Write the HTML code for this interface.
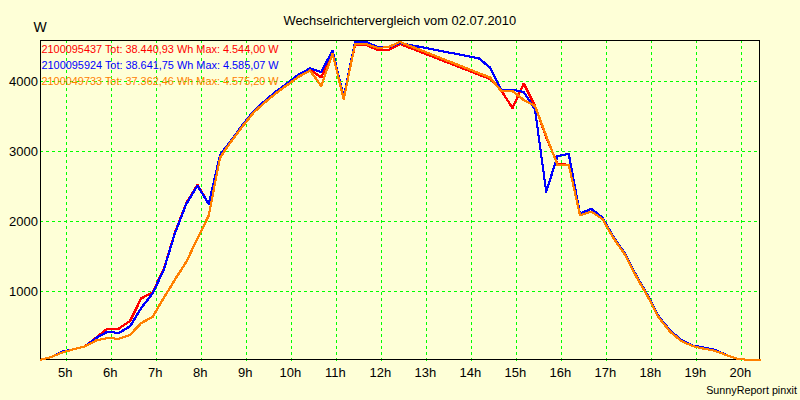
<!DOCTYPE html>
<html><head><meta charset="utf-8"><title>Wechselrichtervergleich</title>
<style>
html,body{margin:0;padding:0;background:#feffd7;}
body{width:800px;height:400px;overflow:hidden;}
svg{display:block;font-family:"Liberation Sans",sans-serif;}
</style></head><body>
<svg width="800" height="400" viewBox="0 0 800 400">
<rect x="0" y="0" width="800" height="400" fill="#feffd7"/>
<g stroke="#00ff00" stroke-width="1" stroke-dasharray="3 3" shape-rendering="crispEdges" fill="none"><line x1="66.5" y1="40" x2="66.5" y2="361"/><line x1="111.5" y1="40" x2="111.5" y2="361"/><line x1="156.5" y1="40" x2="156.5" y2="361"/><line x1="201.5" y1="40" x2="201.5" y2="361"/><line x1="246.5" y1="40" x2="246.5" y2="361"/><line x1="291.5" y1="40" x2="291.5" y2="361"/><line x1="336.5" y1="40" x2="336.5" y2="361"/><line x1="381.5" y1="40" x2="381.5" y2="361"/><line x1="426.5" y1="40" x2="426.5" y2="361"/><line x1="471.5" y1="40" x2="471.5" y2="361"/><line x1="516.5" y1="40" x2="516.5" y2="361"/><line x1="561.5" y1="40" x2="561.5" y2="361"/><line x1="606.5" y1="40" x2="606.5" y2="361"/><line x1="651.5" y1="40" x2="651.5" y2="361"/><line x1="696.5" y1="40" x2="696.5" y2="361"/><line x1="741.5" y1="40" x2="741.5" y2="361"/><line x1="40" y1="81.5" x2="760" y2="81.5"/><line x1="40" y1="151.5" x2="760" y2="151.5"/><line x1="40" y1="221.5" x2="760" y2="221.5"/><line x1="40" y1="291.5" x2="760" y2="291.5"/></g>
<rect x="40.5" y="40.5" width="719" height="319" fill="none" stroke="#000" stroke-width="1" shape-rendering="crispEdges"/>
<g font-size="10.9px">
<text x="41.5" y="53" fill="#ff0000">2100095437 Tot: 38.440,93 Wh Max: 4.544,00 W</text>
<text x="41.5" y="69" fill="#0000ff">2100095924 Tot: 38.641,75 Wh Max: 4.585,07 W</text>
<text x="41.5" y="85" fill="#ff8000">2100049733 Tot: 37.362,46 Wh Max: 4.575,20 W</text>
</g>
<clipPath id="c"><rect x="40" y="39" width="721" height="323"/></clipPath>
<g clip-path="url(#c)" fill="none" stroke-width="1" stroke-linejoin="round" stroke-linecap="square" shape-rendering="crispEdges">
<g stroke="#ff0000"><polyline transform="translate(-0.5,-0.5)" points="40.00,360.00 51.25,357.00 62.50,351.60 73.75,349.20 85.00,346.40 96.25,337.60 107.50,328.60 118.75,328.60 130.00,321.00 141.25,298.40 152.50,292.40 163.75,269.20 175.00,232.20 186.25,203.20 197.50,184.80 208.75,204.00 220.00,155.00 231.25,140.50 242.50,125.00 253.75,111.00 265.00,100.80 276.25,91.40 287.50,83.20 298.75,74.50 310.00,69.40 321.25,77.50 332.50,52.50 343.75,98.00 355.00,45.00 366.25,45.00 377.50,50.00 388.75,50.00 400.00,44.00 490.00,79.00 501.25,90.60 512.50,108.00 523.75,83.50 535.00,106.00 546.25,137.50 557.50,164.00 568.75,164.75 580.00,214.50 591.25,211.50 602.50,219.00 613.75,238.50 625.00,254.75 636.25,276.50 647.50,296.00 658.75,317.50 670.00,331.50 681.25,341.00 692.50,346.00 703.75,348.70 715.00,350.80 726.25,355.00 737.50,358.75 748.75,360.00 760.00,360.00"/><polyline transform="translate(-0.5,0.5)" points="40.00,360.00 51.25,357.00 62.50,351.60 73.75,349.20 85.00,346.40 96.25,337.60 107.50,328.60 118.75,328.60 130.00,321.00 141.25,298.40 152.50,292.40 163.75,269.20 175.00,232.20 186.25,203.20 197.50,184.80 208.75,204.00 220.00,155.00 231.25,140.50 242.50,125.00 253.75,111.00 265.00,100.80 276.25,91.40 287.50,83.20 298.75,74.50 310.00,69.40 321.25,77.50 332.50,52.50 343.75,98.00 355.00,45.00 366.25,45.00 377.50,50.00 388.75,50.00 400.00,44.00 490.00,79.00 501.25,90.60 512.50,108.00 523.75,83.50 535.00,106.00 546.25,137.50 557.50,164.00 568.75,164.75 580.00,214.50 591.25,211.50 602.50,219.00 613.75,238.50 625.00,254.75 636.25,276.50 647.50,296.00 658.75,317.50 670.00,331.50 681.25,341.00 692.50,346.00 703.75,348.70 715.00,350.80 726.25,355.00 737.50,358.75 748.75,360.00 760.00,360.00"/><polyline transform="translate(0.5,-0.5)" points="40.00,360.00 51.25,357.00 62.50,351.60 73.75,349.20 85.00,346.40 96.25,337.60 107.50,328.60 118.75,328.60 130.00,321.00 141.25,298.40 152.50,292.40 163.75,269.20 175.00,232.20 186.25,203.20 197.50,184.80 208.75,204.00 220.00,155.00 231.25,140.50 242.50,125.00 253.75,111.00 265.00,100.80 276.25,91.40 287.50,83.20 298.75,74.50 310.00,69.40 321.25,77.50 332.50,52.50 343.75,98.00 355.00,45.00 366.25,45.00 377.50,50.00 388.75,50.00 400.00,44.00 490.00,79.00 501.25,90.60 512.50,108.00 523.75,83.50 535.00,106.00 546.25,137.50 557.50,164.00 568.75,164.75 580.00,214.50 591.25,211.50 602.50,219.00 613.75,238.50 625.00,254.75 636.25,276.50 647.50,296.00 658.75,317.50 670.00,331.50 681.25,341.00 692.50,346.00 703.75,348.70 715.00,350.80 726.25,355.00 737.50,358.75 748.75,360.00 760.00,360.00"/><polyline transform="translate(0.5,0.5)" points="40.00,360.00 51.25,357.00 62.50,351.60 73.75,349.20 85.00,346.40 96.25,337.60 107.50,328.60 118.75,328.60 130.00,321.00 141.25,298.40 152.50,292.40 163.75,269.20 175.00,232.20 186.25,203.20 197.50,184.80 208.75,204.00 220.00,155.00 231.25,140.50 242.50,125.00 253.75,111.00 265.00,100.80 276.25,91.40 287.50,83.20 298.75,74.50 310.00,69.40 321.25,77.50 332.50,52.50 343.75,98.00 355.00,45.00 366.25,45.00 377.50,50.00 388.75,50.00 400.00,44.00 490.00,79.00 501.25,90.60 512.50,108.00 523.75,83.50 535.00,106.00 546.25,137.50 557.50,164.00 568.75,164.75 580.00,214.50 591.25,211.50 602.50,219.00 613.75,238.50 625.00,254.75 636.25,276.50 647.50,296.00 658.75,317.50 670.00,331.50 681.25,341.00 692.50,346.00 703.75,348.70 715.00,350.80 726.25,355.00 737.50,358.75 748.75,360.00 760.00,360.00"/></g>
<g stroke="#0000ff"><polyline transform="translate(-0.5,-0.5)" points="40.00,360.00 51.25,357.00 62.50,351.60 73.75,349.20 85.00,346.40 96.25,338.00 107.50,331.60 118.75,333.00 130.00,326.40 141.25,308.00 152.50,293.50 163.75,270.00 175.00,233.00 186.25,204.00 197.50,185.60 208.75,204.00 220.00,155.00 231.25,140.50 242.50,125.00 253.75,111.00 265.00,100.80 276.25,91.40 287.50,83.20 298.75,74.50 310.00,68.50 321.25,72.00 332.50,50.60 343.75,97.00 355.00,42.00 366.25,42.00 377.50,47.00 388.75,47.00 400.00,43.00 478.75,58.30 490.00,67.50 501.25,90.40 512.50,89.75 523.75,92.00 535.00,109.50 546.25,191.75 557.50,156.00 568.75,154.00 580.00,213.75 591.25,208.80 602.50,217.80 613.75,237.50 625.00,253.75 636.25,275.50 647.50,295.00 658.75,316.50 670.00,330.50 681.25,340.00 692.50,345.50 703.75,347.50 715.00,349.80 726.25,355.00 737.50,358.75 748.75,360.00 760.00,360.00"/><polyline transform="translate(-0.5,0.5)" points="40.00,360.00 51.25,357.00 62.50,351.60 73.75,349.20 85.00,346.40 96.25,338.00 107.50,331.60 118.75,333.00 130.00,326.40 141.25,308.00 152.50,293.50 163.75,270.00 175.00,233.00 186.25,204.00 197.50,185.60 208.75,204.00 220.00,155.00 231.25,140.50 242.50,125.00 253.75,111.00 265.00,100.80 276.25,91.40 287.50,83.20 298.75,74.50 310.00,68.50 321.25,72.00 332.50,50.60 343.75,97.00 355.00,42.00 366.25,42.00 377.50,47.00 388.75,47.00 400.00,43.00 478.75,58.30 490.00,67.50 501.25,90.40 512.50,89.75 523.75,92.00 535.00,109.50 546.25,191.75 557.50,156.00 568.75,154.00 580.00,213.75 591.25,208.80 602.50,217.80 613.75,237.50 625.00,253.75 636.25,275.50 647.50,295.00 658.75,316.50 670.00,330.50 681.25,340.00 692.50,345.50 703.75,347.50 715.00,349.80 726.25,355.00 737.50,358.75 748.75,360.00 760.00,360.00"/><polyline transform="translate(0.5,-0.5)" points="40.00,360.00 51.25,357.00 62.50,351.60 73.75,349.20 85.00,346.40 96.25,338.00 107.50,331.60 118.75,333.00 130.00,326.40 141.25,308.00 152.50,293.50 163.75,270.00 175.00,233.00 186.25,204.00 197.50,185.60 208.75,204.00 220.00,155.00 231.25,140.50 242.50,125.00 253.75,111.00 265.00,100.80 276.25,91.40 287.50,83.20 298.75,74.50 310.00,68.50 321.25,72.00 332.50,50.60 343.75,97.00 355.00,42.00 366.25,42.00 377.50,47.00 388.75,47.00 400.00,43.00 478.75,58.30 490.00,67.50 501.25,90.40 512.50,89.75 523.75,92.00 535.00,109.50 546.25,191.75 557.50,156.00 568.75,154.00 580.00,213.75 591.25,208.80 602.50,217.80 613.75,237.50 625.00,253.75 636.25,275.50 647.50,295.00 658.75,316.50 670.00,330.50 681.25,340.00 692.50,345.50 703.75,347.50 715.00,349.80 726.25,355.00 737.50,358.75 748.75,360.00 760.00,360.00"/><polyline transform="translate(0.5,0.5)" points="40.00,360.00 51.25,357.00 62.50,351.60 73.75,349.20 85.00,346.40 96.25,338.00 107.50,331.60 118.75,333.00 130.00,326.40 141.25,308.00 152.50,293.50 163.75,270.00 175.00,233.00 186.25,204.00 197.50,185.60 208.75,204.00 220.00,155.00 231.25,140.50 242.50,125.00 253.75,111.00 265.00,100.80 276.25,91.40 287.50,83.20 298.75,74.50 310.00,68.50 321.25,72.00 332.50,50.60 343.75,97.00 355.00,42.00 366.25,42.00 377.50,47.00 388.75,47.00 400.00,43.00 478.75,58.30 490.00,67.50 501.25,90.40 512.50,89.75 523.75,92.00 535.00,109.50 546.25,191.75 557.50,156.00 568.75,154.00 580.00,213.75 591.25,208.80 602.50,217.80 613.75,237.50 625.00,253.75 636.25,275.50 647.50,295.00 658.75,316.50 670.00,330.50 681.25,340.00 692.50,345.50 703.75,347.50 715.00,349.80 726.25,355.00 737.50,358.75 748.75,360.00 760.00,360.00"/></g>
<g stroke="#ff8000"><polyline transform="translate(-0.5,-0.5)" points="40.00,360.00 51.25,357.00 62.50,352.40 73.75,349.20 85.00,346.40 96.25,340.40 107.50,338.00 118.75,338.80 130.00,335.00 141.25,323.00 152.50,317.00 163.75,298.00 175.00,279.50 186.25,262.00 197.50,238.50 208.75,215.50 220.00,157.60 231.25,141.30 242.50,126.40 253.75,112.30 265.00,102.30 276.25,93.00 287.50,84.80 298.75,76.70 310.00,70.50 321.25,86.00 332.50,53.75 343.75,99.00 355.00,44.00 366.25,44.00 377.50,48.00 388.75,47.00 400.00,42.00 490.00,77.50 501.25,91.00 512.50,91.00 523.75,100.00 535.00,106.00 546.25,136.00 557.50,165.00 568.75,164.75 580.00,215.25 591.25,211.50 602.50,219.00 613.75,238.50 625.00,254.75 636.25,276.50 647.50,296.00 658.75,317.50 670.00,331.50 681.25,341.00 692.50,346.00 703.75,348.70 715.00,350.80 726.25,355.00 737.50,358.75 748.75,360.00 760.00,360.00"/><polyline transform="translate(-0.5,0.5)" points="40.00,360.00 51.25,357.00 62.50,352.40 73.75,349.20 85.00,346.40 96.25,340.40 107.50,338.00 118.75,338.80 130.00,335.00 141.25,323.00 152.50,317.00 163.75,298.00 175.00,279.50 186.25,262.00 197.50,238.50 208.75,215.50 220.00,157.60 231.25,141.30 242.50,126.40 253.75,112.30 265.00,102.30 276.25,93.00 287.50,84.80 298.75,76.70 310.00,70.50 321.25,86.00 332.50,53.75 343.75,99.00 355.00,44.00 366.25,44.00 377.50,48.00 388.75,47.00 400.00,42.00 490.00,77.50 501.25,91.00 512.50,91.00 523.75,100.00 535.00,106.00 546.25,136.00 557.50,165.00 568.75,164.75 580.00,215.25 591.25,211.50 602.50,219.00 613.75,238.50 625.00,254.75 636.25,276.50 647.50,296.00 658.75,317.50 670.00,331.50 681.25,341.00 692.50,346.00 703.75,348.70 715.00,350.80 726.25,355.00 737.50,358.75 748.75,360.00 760.00,360.00"/><polyline transform="translate(0.5,-0.5)" points="40.00,360.00 51.25,357.00 62.50,352.40 73.75,349.20 85.00,346.40 96.25,340.40 107.50,338.00 118.75,338.80 130.00,335.00 141.25,323.00 152.50,317.00 163.75,298.00 175.00,279.50 186.25,262.00 197.50,238.50 208.75,215.50 220.00,157.60 231.25,141.30 242.50,126.40 253.75,112.30 265.00,102.30 276.25,93.00 287.50,84.80 298.75,76.70 310.00,70.50 321.25,86.00 332.50,53.75 343.75,99.00 355.00,44.00 366.25,44.00 377.50,48.00 388.75,47.00 400.00,42.00 490.00,77.50 501.25,91.00 512.50,91.00 523.75,100.00 535.00,106.00 546.25,136.00 557.50,165.00 568.75,164.75 580.00,215.25 591.25,211.50 602.50,219.00 613.75,238.50 625.00,254.75 636.25,276.50 647.50,296.00 658.75,317.50 670.00,331.50 681.25,341.00 692.50,346.00 703.75,348.70 715.00,350.80 726.25,355.00 737.50,358.75 748.75,360.00 760.00,360.00"/><polyline transform="translate(0.5,0.5)" points="40.00,360.00 51.25,357.00 62.50,352.40 73.75,349.20 85.00,346.40 96.25,340.40 107.50,338.00 118.75,338.80 130.00,335.00 141.25,323.00 152.50,317.00 163.75,298.00 175.00,279.50 186.25,262.00 197.50,238.50 208.75,215.50 220.00,157.60 231.25,141.30 242.50,126.40 253.75,112.30 265.00,102.30 276.25,93.00 287.50,84.80 298.75,76.70 310.00,70.50 321.25,86.00 332.50,53.75 343.75,99.00 355.00,44.00 366.25,44.00 377.50,48.00 388.75,47.00 400.00,42.00 490.00,77.50 501.25,91.00 512.50,91.00 523.75,100.00 535.00,106.00 546.25,136.00 557.50,165.00 568.75,164.75 580.00,215.25 591.25,211.50 602.50,219.00 613.75,238.50 625.00,254.75 636.25,276.50 647.50,296.00 658.75,317.50 670.00,331.50 681.25,341.00 692.50,346.00 703.75,348.70 715.00,350.80 726.25,355.00 737.50,358.75 748.75,360.00 760.00,360.00"/></g>
</g>
<g fill="#000" font-size="13px">
<text x="399.8" y="25" text-anchor="middle" font-size="12.9px">Wechselrichtervergleich vom 02.07.2010</text>
<text x="33.5" y="32" font-size="14px">W</text>
<text x="65.3" y="377" text-anchor="middle">5h</text><text x="110.3" y="377" text-anchor="middle">6h</text><text x="155.3" y="377" text-anchor="middle">7h</text><text x="200.3" y="377" text-anchor="middle">8h</text><text x="245.3" y="377" text-anchor="middle">9h</text><text x="290.3" y="377" text-anchor="middle">10h</text><text x="335.3" y="377" text-anchor="middle">11h</text><text x="380.3" y="377" text-anchor="middle">12h</text><text x="425.3" y="377" text-anchor="middle">13h</text><text x="470.3" y="377" text-anchor="middle">14h</text><text x="515.3" y="377" text-anchor="middle">15h</text><text x="560.3" y="377" text-anchor="middle">16h</text><text x="605.3" y="377" text-anchor="middle">17h</text><text x="650.3" y="377" text-anchor="middle">18h</text><text x="695.3" y="377" text-anchor="middle">19h</text><text x="740.3" y="377" text-anchor="middle">20h</text>
<text x="38" y="86" text-anchor="end">4000</text><text x="38" y="156" text-anchor="end">3000</text><text x="38" y="226" text-anchor="end">2000</text><text x="38" y="296" text-anchor="end">1000</text>
<text x="797" y="394" text-anchor="end" font-size="10.75px">SunnyReport pinxit</text>
</g>
</svg>
</body></html>
